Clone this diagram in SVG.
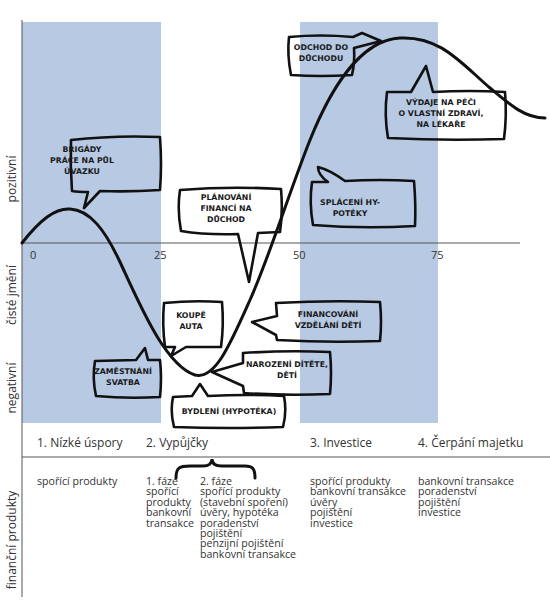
<svg xmlns="http://www.w3.org/2000/svg" width="550" height="600" viewBox="0 0 550 600">
<style>
.band{fill:#b8c9e3}
.axis{stroke:#555;stroke-width:1;fill:none}
.lbl{font-family:"Open Sans","DejaVu Sans",sans-serif;fill:#333}
.ph{font-size:12px}
.pr{font-size:10.6px}
.tk{font-size:11px}
.bub{fill:none;stroke:#111;stroke-width:2.6;stroke-linejoin:round;stroke-linecap:round}
.bt{font-family:"DejaVu Sans",sans-serif;font-weight:bold;font-size:7.8px;fill:#1a1a1a;text-anchor:middle}
.curve{fill:none;stroke:#111;stroke-width:3;stroke-linecap:round}
</style>
<rect width="550" height="600" fill="#fff"/>
<g id="bands">
<rect class="band" x="22" y="22" width="139" height="401"/>
<rect class="band" x="300" y="22" width="138" height="401"/>
</g>
<g id="axes">
<line class="axis" x1="22" y1="20" x2="22" y2="597"/>
<line class="axis" x1="22" y1="243" x2="520" y2="243" stroke="#777"/>
<line class="axis" x1="22" y1="457" x2="550" y2="457"/>
<text class="lbl tk" x="30" y="259">0</text>
<text class="lbl tk" x="154" y="259">25</text>
<text class="lbl tk" x="293" y="259">50</text>
<text class="lbl tk" x="431" y="259">75</text>
<text class="lbl ph" transform="translate(16,179) rotate(-90)" text-anchor="middle">pozitivní</text>
<text class="lbl ph" transform="translate(16,295) rotate(-90)" text-anchor="middle">čisté jmění</text>
<text class="lbl ph" transform="translate(16,388) rotate(-90)" text-anchor="middle">negativní</text>
<text class="lbl ph" transform="translate(16,540) rotate(-90)" text-anchor="middle">finanční produkty</text>
</g>
<g id="phases">
<text class="lbl ph" x="37" y="447">1. Nízké úspory</text>
<text class="lbl ph" x="146" y="447">2. Vypůjčky</text>
<text class="lbl ph" x="310" y="447">3. Investice</text>
<text class="lbl ph" x="418" y="447">4. Čerpání majetku</text>
</g>
<g id="products">
<text class="lbl pr" x="37" y="485">spořící produkty</text>
<text class="lbl pr" x="146" y="485"><tspan x="146">1. fáze</tspan><tspan x="146" dy="10.4">spořící</tspan><tspan x="146" dy="10.4">produkty</tspan><tspan x="146" dy="10.4">bankovní</tspan><tspan x="146" dy="10.4">transakce</tspan></text>
<text class="lbl pr" x="200" y="485"><tspan x="200">2. fáze</tspan><tspan x="200" dy="10.4">spořící produkty</tspan><tspan x="200" dy="10.4">(stavební spoření)</tspan><tspan x="200" dy="10.4">úvěry, hypotéka</tspan><tspan x="200" dy="10.4">poradenství</tspan><tspan x="200" dy="10.4">pojištění</tspan><tspan x="200" dy="10.4">penzijní pojištění</tspan><tspan x="200" dy="10.4">bankovní transakce</tspan></text>
<text class="lbl pr" x="310" y="485"><tspan x="310">spořící produkty</tspan><tspan x="310" dy="10.4">bankovní transakce</tspan><tspan x="310" dy="10.4">úvěry</tspan><tspan x="310" dy="10.4">pojištění</tspan><tspan x="310" dy="10.4">investice</tspan></text>
<text class="lbl pr" x="418" y="485"><tspan x="418">bankovní transakce</tspan><tspan x="418" dy="10.4">poradenství</tspan><tspan x="418" dy="10.4">pojištění</tspan><tspan x="418" dy="10.4">investice</tspan></text>
</g>
<g id="connectors">
<path class="curve" d="M22,243 C40,220 55,208 70,209 C90,210 105,230 120,262 C140,305 165,365 195,375 C215,380 230,345 250,300 C270,255 290,190 310,140 C330,90 360,40 400,38 C440,36 460,62 490,88 C510,105 525,118 545,118"/>
<path class="curve" d="M176,478 C176,467 180,466 190,466 L203,466 C209,466 212,463 212,459 C212,463 215,466 222,466 L245,466 C252,466 255,468 255,478"/>
</g>
<g id="n-brigady">
<path class="bub" d="M71,140 Q115,135 160,137 Q162,165 160,190 Q130,192 100,191 L84,208 L88,192 Q78,192 72,191 Q70,165 71,140 Z"/>
<text class="bt" x="82" y="152" text-anchor="start">BRIGÁDY</text>
<text class="bt" x="82" y="163" text-anchor="start">PRÁCE NA PŮL</text>
<text class="bt" x="82" y="174" text-anchor="start">ÚVAZKU</text>
</g>
<g id="n-planovani">
<path class="bub" d="M180,190 Q230,186 281,189 Q283,212 280,232 L258,233 L249,282 L238,234 Q205,235 181,231 Q177,210 180,190 Z"/>
<text class="bt" x="226" y="200">PLÁNOVÁNÍ</text>
<text class="bt" x="226" y="211">FINANCÍ NA</text>
<text class="bt" x="226" y="222">DŮCHOD</text>
</g>
<g id="n-odchod">
<path class="bub" d="M289,37 Q320,34 353,37 L362,33 L381,41 L354,48 Q355,62 352,75 Q320,77 291,75 Q287,55 289,37 Z"/>
<text class="bt" x="321" y="50">ODCHOD DO</text>
<text class="bt" x="321" y="61">DŮCHODU</text>
</g>
<g id="n-vydaje">
<path class="bub" d="M387,92 L411,92 L426,66 L433,92 Q470,90 505,92 Q507,116 504,139 Q445,141 388,138 Q384,115 387,92 Z"/>
<text class="bt" x="441" y="105">VÝDAJE NA PÉČI</text>
<text class="bt" x="441" y="116">O VLASTNÍ ZDRAVÍ,</text>
<text class="bt" x="441" y="127">NA LÉKAŘE</text>
</g>
<g id="n-splaceni">
<path class="bub" d="M312,182 L328,182 Q318,175 318,167 Q330,170 345,181 Q380,179 414,181 Q416,205 415,226 Q362,229 313,225 Q309,203 312,182 Z"/>
<text class="bt" x="350" y="205">SPLÁCENÍ HY-</text>
<text class="bt" x="350" y="216">POTÉKY</text>
</g>
<g id="n-koupe">
<path class="bub" d="M164,303 Q193,300 222,302 Q224,325 221,347 L186,347 L171,356 L175,347 L165,347 Q162,325 164,303 Z"/>
<text class="bt" x="191" y="318">KOUPĚ</text>
<text class="bt" x="191" y="329">AUTA</text>
</g>
<g id="n-financovani">
<path class="bub" d="M276,303 Q330,300 380,302 Q382,322 380,341 Q328,343 277,340 L276,335 L252,322 L277,316 Z"/>
<text class="bt" x="328" y="317">FINANCOVÁNÍ</text>
<text class="bt" x="328" y="328">VZDĚLÁNÍ DĚTÍ</text>
</g>
<g id="n-narozeni">
<path class="bub" d="M243,353 Q287,350 330,352 Q332,373 330,394 Q286,396 244,393 L243,386 L212,372 L243,363 Z"/>
<text class="bt" x="287" y="367">NAROZENÍ DÍTĚTE,</text>
<text class="bt" x="287" y="378">DĚTÍ</text>
</g>
<g id="n-bydleni">
<path class="bub" d="M173,397 L192,396 L200,384 L208,396 Q248,394 284,396 Q287,412 283,427 Q228,429 174,427 Q170,412 173,397 Z"/>
<text class="bt" x="229" y="414">BYDLENÍ (HYPOTÉKA)</text>
</g>
<g id="n-zamestnani">
<path class="bub" d="M95,361 L136,360 L145,348 L148,360 L160,360 Q162,378 160,397 Q127,399 96,396 Q92,378 95,361 Z"/>
<text class="bt" x="123" y="374">ZAMĚSTNÁNÍ</text>
<text class="bt" x="123" y="385">SVATBA</text>
</g>
</svg>
